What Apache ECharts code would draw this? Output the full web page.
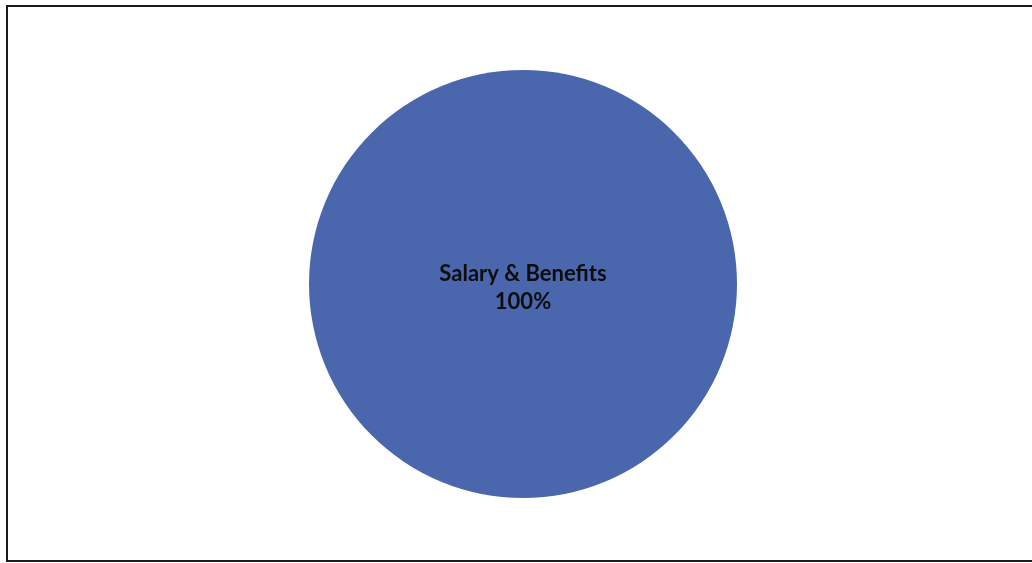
<!DOCTYPE html>
<html>
<head>
<meta charset="utf-8">
<script src="https://cdn.jsdelivr.net/npm/echarts@6/dist/echarts.min.js"></script>
<style>
  html, body { margin: 0; padding: 0; background: #ffffff; }
  #chart { width: 1032px; height: 563px; }
</style>
</head>
<body>
<div id="chart"></div>
<script>
// Expense breakdown
const categories = ['Salary & Benefits'];
const shares = [100];

const chart = echarts.init(document.getElementById('chart'), null, { renderer: 'canvas' });

chart.setOption({
  backgroundColor: '#ffffff',
  animation: false,
  graphic: [{
    type: 'rect',
    shape: { x: 7, y: 6, width: 1040, height: 555 },
    style: { fill: 'none', stroke: '#1a1a1a', lineWidth: 2 },
    silent: true
  }],
  series: [{
    type: 'pie',
    center: [523, 284],
    radius: [0, 214],
    startAngle: 90,
    itemStyle: { color: '#4a67ae', borderWidth: 0 },
    label: {
      show: true,
      position: 'center',
      formatter: p => p.name + '\n' + p.value + '%',
      fontFamily: 'Lato',
      fontWeight: 'bold',
      fontSize: 22,
      lineHeight: 28,
      offset: [0, 4],
      color: '#0d0d0d'
    },
    labelLine: { show: false },
    emphasis: { disabled: true },
    data: categories.map((c, i) => ({ name: c, value: shares[i] }))
  }]
});
</script>
</body>
</html>
